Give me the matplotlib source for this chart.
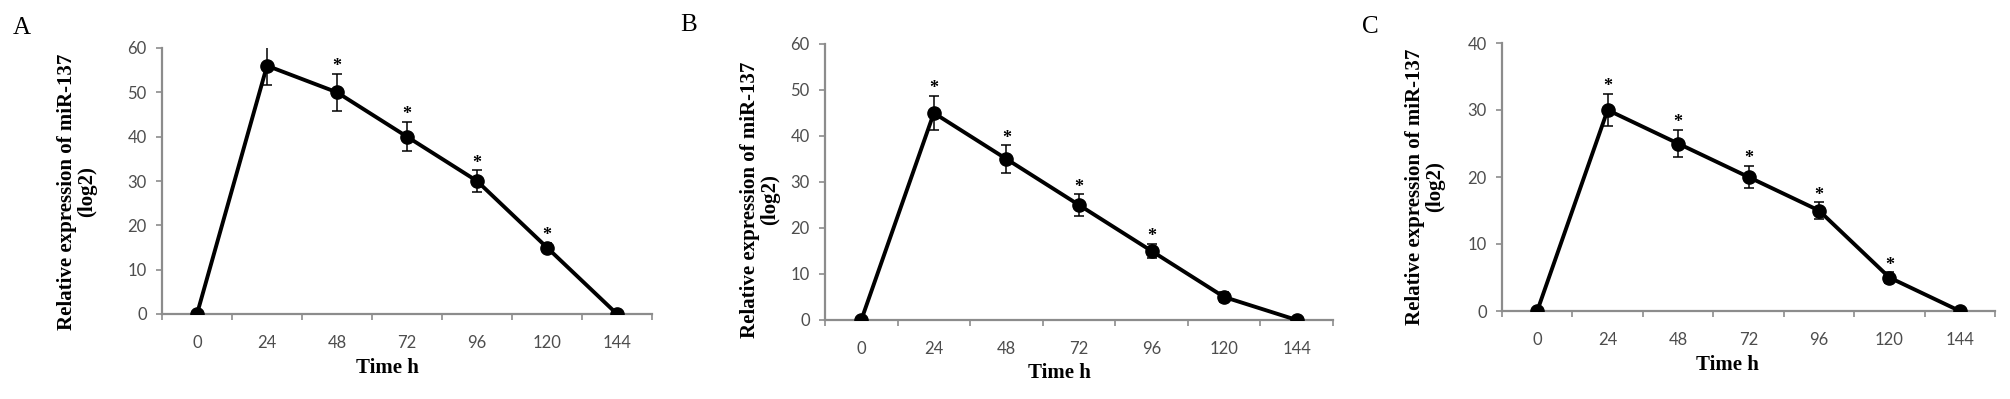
"""
miR-137 relative expression over time, three panels (A, B, C).

Output:
    out.png
"""

import matplotlib.pyplot as plt
import numpy as np

# shared x categories (hours)
time_labels = ["0", "24", "48", "72", "96", "120", "144"]

# panel A
a_values = [0, 56, 50, 40, 30, 15, 0]
a_errors = [0, 4.3, 4.2, 3.3, 2.4, 1.0, 0]
a_stars = [False, False, True, True, True, True, False]

# panel B
b_values = [0, 45, 35, 25, 15, 5, 0]
b_errors = [0, 3.8, 3.0, 2.3, 1.5, 1.0, 0]
b_stars = [False, True, True, True, True, False, False]

# panel C
c_values = [0, 30, 25, 20, 15, 5, 0]
c_errors = [0, 2.4, 2.0, 1.7, 1.2, 0.8, 0]
c_stars = [False, True, True, True, True, True, False]

panel_letters = ["A", "B", "C"]
y_limits = [60, 60, 40]

SERIF = "Liberation Serif"
TICK_FONT = "Lato"
SPINE_GRAY = "#8c8c8c"
TICK_GRAY = "#4d4d4d"

W, H = 2010, 399
fig = plt.figure(figsize=(W / 100, H / 100), dpi=100)


def fx(px):
    return px / W


def fy(py):
    return 1 - py / H


# plot area in pixels: left, right, y of zero, y of top
plot_px = [(162, 652, 314, 48), (825, 1333, 320, 44), (1502, 1995, 311, 43)]
ylabel_px = [(77, 192), (760, 200), (1425, 187)]
xlabel_px = [(387, 368), (1059, 373), (1727, 365)]
letter_px = [(22, 28), (689, 25), (1370, 27)]


def draw_panel(ax, values, errors, stars, ymax):
    x = np.arange(len(time_labels))
    ax.errorbar(x, values, yerr=errors, fmt="none", ecolor="black",
                elinewidth=1.1, capsize=3.5, capthick=1.1, zorder=2)
    ax.plot(x, values, color="black", lw=2.8, marker="o", ms=9.5, zorder=3)
    for xi, v, e, s in zip(x, values, errors, stars):
        if s:
            ax.annotate("*", (xi, v + e), xytext=(0, -1), textcoords="offset points",
                        ha="center", va="bottom", fontsize=13, fontweight="bold",
                        family=SERIF, zorder=4)

    ax.set_xlim(-0.5, len(time_labels) - 0.5)
    ax.set_ylim(0, ymax)
    ax.set_xticks(x)
    ax.set_xticklabels(time_labels)
    ax.set_xticks(np.arange(-0.5, len(time_labels), 1), minor=True)
    ax.set_yticks(np.arange(0, ymax + 1, 10))

    ax.tick_params(axis="x", which="major", length=0, pad=15,
                   labelsize=12, labelcolor=TICK_GRAY)
    ax.tick_params(axis="x", which="minor", length=4, width=1.2,
                   color=SPINE_GRAY, direction="out")
    ax.tick_params(axis="y", length=4, width=1.2, color=SPINE_GRAY,
                   direction="out", pad=7, labelsize=12, labelcolor=TICK_GRAY)
    for lab in ax.get_xticklabels() + ax.get_yticklabels():
        lab.set_family(TICK_FONT)

    for side in ["top", "right"]:
        ax.spines[side].set_visible(False)
    for side in ["left", "bottom"]:
        ax.spines[side].set_color(SPINE_GRAY)
        ax.spines[side].set_linewidth(1.6)
    ax.patch.set_alpha(0)


datasets = [
    (a_values, a_errors, a_stars),
    (b_values, b_errors, b_stars),
    (c_values, c_errors, c_stars),
]

for i, (vals, errs, stars) in enumerate(datasets):
    left, right, y0, ytop = plot_px[i]
    ax = fig.add_axes([fx(left), fy(y0), fx(right - left), (y0 - ytop) / H])
    draw_panel(ax, vals, errs, stars, y_limits[i])

    fig.text(fx(ylabel_px[i][0]), fy(ylabel_px[i][1]),
             "Relative expression of miR-137\n(log2)", rotation=90,
             ha="center", va="center", multialignment="center", linespacing=1.05,
             family=SERIF, fontweight="bold", fontsize=15)
    fig.text(fx(xlabel_px[i][0]), fy(xlabel_px[i][1]), "Time h",
             ha="center", va="center", family=SERIF, fontweight="bold", fontsize=15)
    fig.text(fx(letter_px[i][0]), fy(letter_px[i][1]), panel_letters[i],
             ha="center", va="center", family=SERIF, fontsize=18)

fig.savefig("out.png", dpi=100)
